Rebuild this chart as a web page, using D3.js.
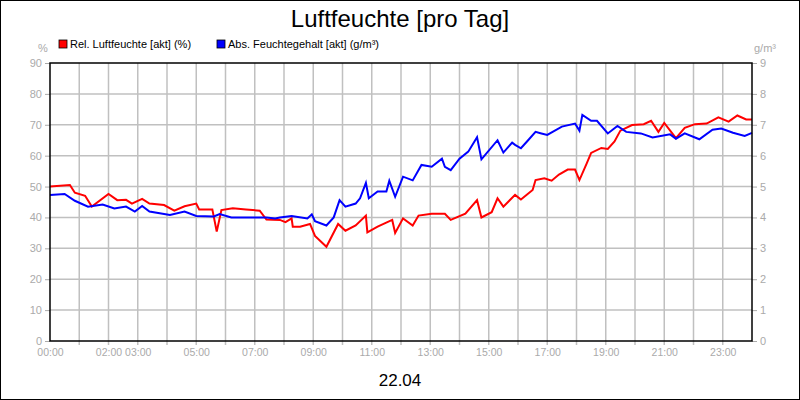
<!DOCTYPE html>
<html><head><meta charset="utf-8">
<script src="https://cdn.jsdelivr.net/npm/d3@7"></script>
<style>body{margin:0;background:#fff}svg{display:block;font-family:Arial,"Liberation Sans",sans-serif}</style>
</head><body><svg id="c" width="800" height="400"></svg>
<script>
const hoursTicks = [0,2,3,5,7,9,11,13,15,17,19,21,23];
const leftTicks = [0,10,20,30,40,50,60,70,80,90];
const rightTicks = [0,1,2,3,4,5,6,7,8,9];
const relT = [0,0.68,0.85,1.2,1.43,2,2.3,2.6,2.8,3.15,3.4,3.9,4.25,4.6,5,5.1,5.55,5.7,5.86,6.25,6.7,7.17,7.4,7.86,8.05,8.26,8.3,8.55,8.89,9.06,9.45,9.85,10.1,10.45,10.8,10.85,11.2,11.7,11.8,12.07,12.4,12.6,13.05,13.5,13.7,14.2,14.6,14.75,15.1,15.3,15.5,15.9,16.1,16.5,16.6,16.9,17.15,17.4,17.7,17.95,18.1,18.35,18.5,18.85,19.07,19.3,19.5,19.9,20.3,20.55,20.8,21.0,21.4,21.7,22.05,22.45,22.85,23.2,23.5,23.8,24];
const relV = [50,50.5,48,47,43.5,47.6,45.6,45.7,44.5,46,44.5,44,42.2,43.6,44.5,42.6,42.6,35.4,42.4,43,42.6,42.2,39.3,39.2,38.5,39.7,37,37,37.9,34,30.5,37.9,35.7,37.4,40.6,35.2,37,39.2,35,39.7,37.4,40.6,41.2,41.2,39.2,41.2,45.6,40,41.7,46.2,43.5,47.3,45.8,48.9,52.1,52.7,51.9,53.9,55.5,55.5,52.1,57.5,60.9,62.5,62.2,64.6,68.1,69.9,70.2,71.3,67.7,70.6,65.7,69,70.2,70.4,72.4,71,73,71.7,71.7];
const absT = [0,0.5,0.85,1.3,1.8,2.2,2.6,2.9,3.15,3.4,4.1,4.6,5,5.6,5.8,6.2,7.4,7.7,7.86,8.26,8.8,8.95,9.06,9.45,9.7,9.9,10.1,10.45,10.6,10.8,10.9,11.2,11.5,11.6,11.8,12.07,12.4,12.7,13.05,13.4,13.5,13.7,14.0,14.3,14.6,14.75,15.3,15.5,15.8,15.9,16.1,16.3,16.6,16.8,17.0,17.5,17.95,18.1,18.2,18.5,18.7,19.07,19.4,19.7,20.2,20.6,21.2,21.4,21.7,22.2,22.65,22.95,23.35,23.75,24];
const absV = [4.73,4.76,4.54,4.35,4.42,4.29,4.35,4.19,4.37,4.19,4.08,4.19,4.05,4.03,4.11,4.0,4.0,3.97,4.0,4.05,3.97,4.1,3.88,3.74,4.0,4.56,4.35,4.45,4.62,5.12,4.62,4.84,4.84,5.19,4.67,5.32,5.2,5.7,5.64,5.9,5.64,5.53,5.9,6.13,6.6,5.88,6.5,6.1,6.42,6.35,6.24,6.45,6.77,6.72,6.67,6.94,7.04,6.81,7.32,7.13,7.13,6.72,6.96,6.77,6.72,6.59,6.69,6.55,6.72,6.53,6.84,6.88,6.74,6.64,6.74];

const svg = d3.select("#c");
const L=50,R=752,T=63,B=341;
const x = d3.scaleLinear().domain([0,24]).range([L,R]);
const yL = d3.scaleLinear().domain([0,90]).range([B,T]);
const yR = d3.scaleLinear().domain([0,9]).range([B,T]);
svg.append("rect").attr("x",0.5).attr("y",0.5).attr("width",799).attr("height",399).attr("fill","#fff").attr("stroke","#000");
const g = svg.append("g");
g.selectAll(".vg").data(d3.range(1,24)).join("line").attr("x1",d=>x(d)).attr("x2",d=>x(d)).attr("y1",T).attr("y2",B+4).attr("stroke","#c0c0c0").attr("stroke-width",1.5);
g.selectAll(".hg").data(leftTicks.slice(1,-1)).join("line").attr("x1",L).attr("x2",R).attr("y1",d=>yL(d)).attr("y2",d=>yL(d)).attr("stroke","#c0c0c0").attr("stroke-width",1.5);
const ax = svg.append("g").attr("transform",`translate(0,${B})`).call(d3.axisBottom(x).tickValues(hoursTicks).tickSize(0).tickPadding(8).tickFormat(d=>String(d).padStart(2,"0")+":00"));
const al = svg.append("g").attr("transform",`translate(${L},0)`).call(d3.axisLeft(yL).tickValues(leftTicks).tickSize(5).tickPadding(3));
const ar = svg.append("g").attr("transform",`translate(${R},0)`).call(d3.axisRight(yR).tickValues(rightTicks).tickSize(5).tickPadding(3));
[ax,al,ar].forEach(a=>{a.select(".domain").remove();a.selectAll("line").attr("stroke","#aaa");a.selectAll("text").attr("fill","#aaa").attr("font-size",11).attr("font-family","Arial,'Liberation Sans',sans-serif");});
ax.selectAll("text").attr("font-size",10.5);
const relLine = d3.line().x((d,i)=>x(relT[i])).y(d=>yL(d));
const absLine = d3.line().x((d,i)=>x(absT[i])).y(d=>yR(d));
svg.append("path").attr("d",relLine(relV)).attr("fill","none").attr("stroke","#ff0000").attr("stroke-width",2);
svg.append("path").attr("d",absLine(absV)).attr("fill","none").attr("stroke","#0000ff").attr("stroke-width",2);
svg.append("rect").attr("x",L).attr("y",T).attr("width",R-L).attr("height",B-T).attr("fill","none").attr("stroke","#000").attr("stroke-width",1.5);
svg.append("text").attr("x",400).attr("y",27).attr("text-anchor","middle").attr("font-size",24).text("Luftfeuchte [pro Tag]");
svg.append("text").attr("x",400).attr("y",386).attr("text-anchor","middle").attr("font-size",17).text("22.04");
svg.append("text").attr("x",43).attr("y",52).attr("text-anchor","middle").attr("font-size",11).attr("fill","#aaa").text("%");
svg.append("text").attr("x",765).attr("y",52).attr("text-anchor","middle").attr("font-size",11).attr("fill","#aaa").text("g/m³");
const leg=[["Rel. Luftfeuchte [akt] (%)","#ff0000",59],["Abs. Feuchtegehalt [akt] (g/m³)","#0000ff",217]];
leg.forEach(([t,c,lx])=>{svg.append("rect").attr("x",lx).attr("y",40).attr("width",8).attr("height",8).attr("fill",c).attr("stroke","#000").attr("stroke-width",0.8);
svg.append("text").attr("x",lx+11).attr("y",48).attr("font-size",11).text(t);});
</script></body></html>
